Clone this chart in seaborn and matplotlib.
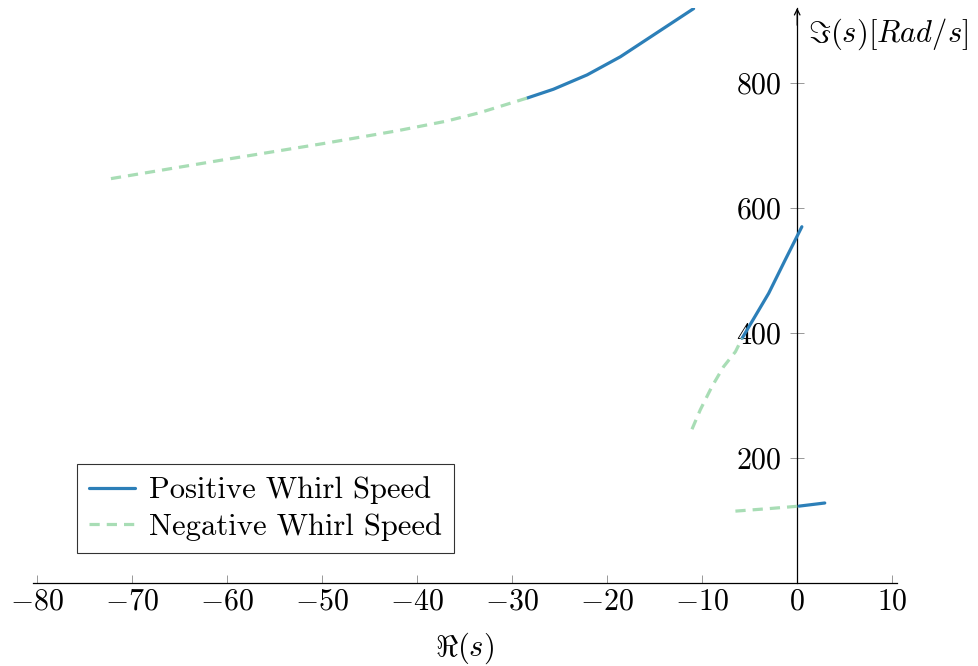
import numpy as np
import pandas as pd
import matplotlib
matplotlib.use("Agg")
import matplotlib.pyplot as plt
import matplotlib.transforms as mtransforms
import seaborn as sns

# ---- data ----
pos_top_x = [-28.4, -25.65, -22.1, -18.6, -15.1, -10.9]
pos_top_y = [776, 790, 813, 842, 877, 919]
neg_top_x = [-72.2, -60.4, -49.9, -42.1, -36.9, -33.4, -28.4]
neg_top_y = [647, 677, 703, 723.5, 739, 752.5, 776]
pos_mid_x = [-5.8, -3.0, -1.26, 0.49]
pos_mid_y = [391.5, 463.5, 517, 570]
neg_mid_x = [-11.07, -10.2, -8.98, -7.75, -6.5, -5.8]
neg_mid_y = [246, 277, 314, 346, 370, 391.5]
pos_low_x = [0.2, 2.9]
pos_low_y = [123, 128]
neg_low_x = [-6.5, -3.0, 0.2]
neg_low_y = [115, 119, 123]

x_ticks = [-80, -70, -60, -50, -40, -30, -20, -10, 0, 10]
y_ticks = [200, 400, 600, 800]

BLUE = "#2c7fb8"
GREEN = "#a8ddb5"

sns.set_theme(style="white")
plt.rcParams["font.family"] = ["cmr10", "DejaVu Serif"]
plt.rcParams["mathtext.fontset"] = "cm"
plt.rcParams["axes.formatter.use_mathtext"] = True
plt.rcParams["axes.unicode_minus"] = True
plt.rcParams["text.color"] = "black"
plt.rcParams["xtick.labelcolor"] = "black"
plt.rcParams["ytick.labelcolor"] = "black"

fig = plt.figure(figsize=(9.79, 6.66), dpi=100)
ax = fig.add_axes([33 / 979, 83 / 666, (897 - 33) / 979, (583 - 8) / 666])

segments = [
    ("Positive Whirl Speed", pos_top_x, pos_top_y),
    ("Negative Whirl Speed", neg_top_x, neg_top_y),
    ("Positive Whirl Speed", pos_mid_x, pos_mid_y),
    ("Negative Whirl Speed", neg_mid_x, neg_mid_y),
    ("Negative Whirl Speed", neg_low_x, neg_low_y),
    ("Positive Whirl Speed", pos_low_x, pos_low_y),
]
seen = set()
for name, xs, ys in segments:
    df = pd.DataFrame({"x": xs, "y": ys})
    neg = name.startswith("Negative")
    sns.lineplot(data=df, x="x", y="y", ax=ax, sort=False,
                 color=GREEN if neg else BLUE, lw=2.3,
                 linestyle=(0, (3.2, 2.2)) if neg else "-",
                 label=None if name in seen else name, zorder=3)
    seen.add(name)

ax.set_xlim(-80.4, 10.5)
ax.set_ylim(0, 920)
ax.set_xticks(x_ticks)
ax.set_yticks(y_ticks)
ax.set_xlabel("")
ax.set_ylabel("")

ax.spines["top"].set_visible(False)
ax.spines["right"].set_visible(False)
ax.spines["left"].set_position(("data", 0))
ax.spines["bottom"].set_position(("data", 0))
for s in ("left", "bottom"):
    ax.spines[s].set_color("black")
    ax.spines[s].set_linewidth(0.9)
ax.spines["left"].set_zorder(2)

ax.tick_params(axis="x", direction="in", length=6, width=0.6, color="#888888",
               labelsize=21.5, pad=4, bottom=True, labelcolor="black")
ax.tick_params(axis="y", direction="inout", length=10, width=0.6, color="#888888",
               labelsize=21.5, pad=6, left=True, labelcolor="black")

# arrow on top of the y axis
ax.annotate("", xy=(0, 1.0), xycoords=("data", "axes fraction"),
            xytext=(0, 0.97), textcoords=("data", "axes fraction"),
            arrowprops=dict(arrowstyle="->", color="black", lw=0.9,
                            shrinkA=0, shrinkB=0, mutation_scale=10))

ylab_tr = mtransforms.blended_transform_factory(ax.transData, ax.transAxes)
ax.text(1.1, 0.955, r"$\Im(s)[Rad/s]$", transform=ylab_tr,
        fontsize=22, ha="left", va="center", color="black")

fig.text(ax.transData.transform((-35, 0))[0] / 979, 18 / 666, r"$\Re(s)$",
         fontsize=22, ha="center", va="center", color="black")

leg = ax.legend(loc="lower left", bbox_to_anchor=(77 / 979, (666 - 553) / 666),
                bbox_transform=fig.transFigure,
                fontsize=22, frameon=True, fancybox=False, handlelength=1.5,
                borderpad=0.4, labelspacing=0.28, handletextpad=0.45,
                borderaxespad=0, labelcolor="black")
leg.get_frame().set_edgecolor("black")
leg.get_frame().set_linewidth(0.8)

fig.savefig("out.png", dpi=100)
